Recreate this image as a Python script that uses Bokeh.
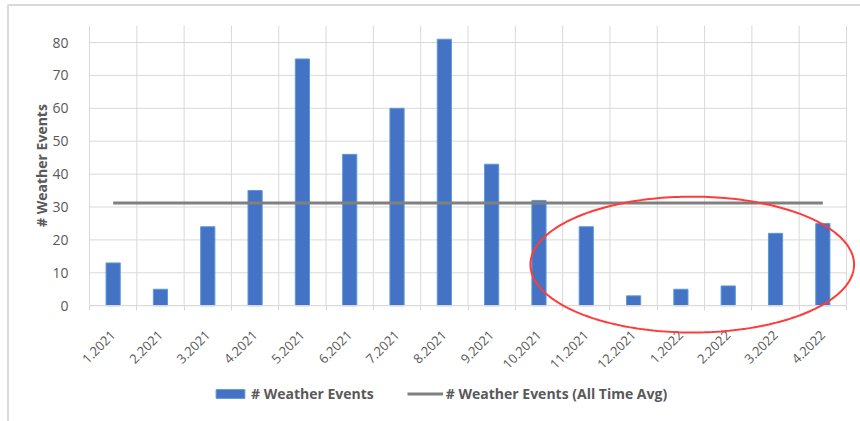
import numpy as np
from bokeh.plotting import figure
from bokeh.models import Range1d, FixedTicker, Legend, LegendItem, PolyAnnotation, Label
from bokeh.embed import file_html
from bokeh.resources import INLINE

# ---- data ----
months = ["1.2021", "2.2021", "3.2021", "4.2021", "5.2021", "6.2021", "7.2021", "8.2021",
          "9.2021", "10.2021", "11.2021", "12.2021", "1.2022", "2.2022", "3.2022", "4.2022"]
weather_events = [13, 5, 24, 35, 75, 46, 60, 81, 43, 32, 24, 3, 5, 6, 22, 25]
all_time_avg = [31.2, 31.2, 31.2, 31.2, 31.2, 31.2, 31.2, 31.2,
                31.2, 31.2, 31.2, 31.2, 31.2, 31.2, 31.2, 31.2]
y_ticks = [0, 10, 20, 30, 40, 50, 60, 70, 80]

# ---- layout constants (pixels) ----
W, H = 860, 421
PLOT_LEFT, PLOT_RIGHT = 89, 846
ZERO_Y = 305.2
PX_PER_UNIT_Y = 3.29
PLOT_TOP_VALUE = 85.1

FONT = "Open Sans"
LABEL_COLOR = "#595959"
GRID_COLOR = "#D9D9D9"

n = len(months)
xs = list(range(n))
boundaries = [i - 0.5 for i in range(n + 1)]
px_per_cat = (PLOT_RIGHT - PLOT_LEFT) / n
x_start = -0.5 - PLOT_LEFT / px_per_cat
x_end = n - 0.5 + (W - PLOT_RIGHT) / px_per_cat
y_start = -(H - ZERO_Y) / PX_PER_UNIT_Y
y_end = ZERO_Y / PX_PER_UNIT_Y


def px_x(px):
    return x_start + px / px_per_cat


def px_y(py):
    return y_end - py / PX_PER_UNIT_Y


p = figure(width=W, height=H, output_backend="svg", toolbar_location=None,
           x_range=Range1d(x_start, x_end), y_range=Range1d(y_start, y_end),
           min_border=0, min_border_left=0, min_border_right=0,
           min_border_top=0, min_border_bottom=0)
p.outline_line_color = None
p.background_fill_color = "white"
p.border_fill_color = "white"
p.xgrid.visible = False
p.ygrid.visible = False

# gridlines of the plot area
p.segment(x0=[boundaries[0]] * len(y_ticks), x1=[boundaries[-1]] * len(y_ticks),
          y0=y_ticks, y1=y_ticks, line_color=GRID_COLOR, line_width=1)
p.segment(x0=boundaries, x1=boundaries, y0=[0] * len(boundaries),
          y1=[PLOT_TOP_VALUE] * len(boundaries), line_color=GRID_COLOR, line_width=1)

# y axis (inside the frame, at the plot-area edge)
p.yaxis.fixed_location = -0.5
p.yaxis.ticker = FixedTicker(ticks=y_ticks)
p.yaxis.axis_line_color = None
p.yaxis.major_tick_line_color = None
p.yaxis.minor_tick_line_color = None
p.yaxis.major_label_text_font = FONT
p.yaxis.major_label_text_font_size = "14px"
p.yaxis.major_label_text_color = LABEL_COLOR
p.yaxis.major_label_standoff = 15

# x axis (at value 0)
p.xaxis.fixed_location = 0
p.xaxis.bounds = (boundaries[0], boundaries[-1])
p.xaxis.ticker = FixedTicker(ticks=xs, minor_ticks=boundaries)
p.xaxis.major_label_overrides = {i: m for i, m in zip(xs, months)}
p.xaxis.major_label_orientation = np.pi / 4
p.xaxis.axis_line_color = GRID_COLOR
p.xaxis.major_tick_line_color = None
p.xaxis.minor_tick_line_color = GRID_COLOR
p.xaxis.minor_tick_in = 0
p.xaxis.minor_tick_out = 5
p.xaxis.major_label_text_font = FONT
p.xaxis.major_label_text_font_size = "13px"
p.xaxis.major_label_text_color = LABEL_COLOR
p.xaxis.major_label_standoff = 21

p.add_layout(Label(x=41, y=H - 165, x_units="screen", y_units="screen", angle=np.pi / 2,
                   text="# Weather Events", text_align="center", text_baseline="middle",
                   text_font=FONT, text_font_size="14px", text_font_style="bold",
                   text_color=LABEL_COLOR))

bars = p.vbar(x=xs, top=weather_events, width=0.3,
              fill_color="#4472C4", line_color="#5B9BD5", line_width=1)
avg_line = p.line(xs, all_time_avg, line_color="#808080", line_width=3)

legend = Legend(items=[LegendItem(label="# Weather Events", renderers=[bars]),
                       LegendItem(label="# Weather Events (All Time Avg)", renderers=[avg_line])],
                location=(212, 18), orientation="horizontal",
                glyph_width=36, glyph_height=11, label_standoff=3, spacing=33,
                padding=0, margin=0, border_line_color=None, background_fill_alpha=0,
                label_text_font=FONT, label_text_font_size="14px",
                label_text_font_style="bold", label_text_color=LABEL_COLOR,
                label_height=14)
p.add_layout(legend)

# red ellipse annotation
t = np.linspace(0, 2 * np.pi, 240)
ecx, ecy, erx, ery = 12.24, 12.5, 3.42, 20.65
p.add_layout(PolyAnnotation(xs=list(ecx + erx * np.cos(t)), ys=list(ecy + ery * np.sin(t)),
                            fill_alpha=0, line_color="#FF3B3B", line_alpha=1, line_width=2,
                            level="overlay"))

# chart-area border (left and top edges)
p.add_layout(PolyAnnotation(xs=[px_x(7.5), px_x(7.5), px_x(900), px_x(900)],
                            ys=[px_y(450), px_y(4.5), px_y(4.5), px_y(450)],
                            fill_alpha=0, line_color=GRID_COLOR, line_alpha=1, line_width=2,
                            level="overlay"))

open("out.html", "w").write(file_html(p, INLINE))
